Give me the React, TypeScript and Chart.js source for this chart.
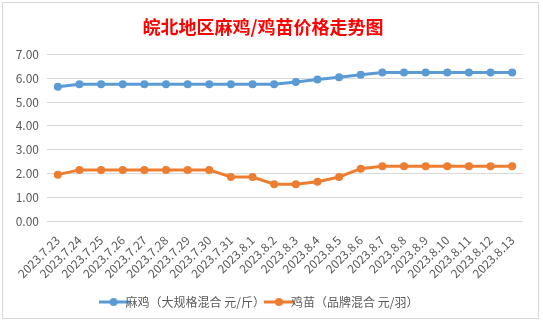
import React, { useEffect, useRef } from "react";
import { Chart, registerables } from "chart.js";

Chart.register(...registerables);

const categories = [
  "2023.7.23", "2023.7.24", "2023.7.25", "2023.7.26", "2023.7.27", "2023.7.28",
  "2023.7.29", "2023.7.30", "2023.7.31", "2023.8.1", "2023.8.2", "2023.8.3",
  "2023.8.4", "2023.8.5", "2023.8.6", "2023.8.7", "2023.8.8", "2023.8.9",
  "2023.8.10", "2023.8.11", "2023.8.12", "2023.8.13",
];
const maji = [
  5.65, 5.75, 5.75, 5.75, 5.75, 5.75, 5.75, 5.75, 5.75, 5.75, 5.75, 5.85,
  5.95, 6.05, 6.15, 6.25, 6.25, 6.25, 6.25, 6.25, 6.25, 6.25,
];
const jimiao = [
  1.95, 2.15, 2.15, 2.15, 2.15, 2.15, 2.15, 2.15, 1.85, 1.85, 1.55, 1.55,
  1.65, 1.85, 2.2, 2.3, 2.3, 2.3, 2.3, 2.3, 2.3, 2.3,
];
const seriesNames = ["麻鸡（大规格混合 元/斤）", "鸡苗（品牌混合 元/羽）"];
const colors = ["#5B9BD5", "#ED7D31"];
const title = "皖北地区麻鸡/鸡苗价格走势图";

function legendIcon(color: string) {
  const c = document.createElement("canvas");
  c.width = 30;
  c.height = 10;
  const ctx = c.getContext("2d")!;
  ctx.strokeStyle = color;
  ctx.lineWidth = 3;
  ctx.beginPath();
  ctx.moveTo(0, 5);
  ctx.lineTo(30, 5);
  ctx.stroke();
  ctx.fillStyle = color;
  ctx.beginPath();
  ctx.arc(15, 5, 4, 0, Math.PI * 2);
  ctx.fill();
  return c;
}

export default function App() {
  const ref = useRef<HTMLCanvasElement>(null);
  useEffect(() => {
    const icons = colors.map(legendIcon);
    const font = "'Noto Sans CJK SC', 'Open Sans', sans-serif";
    const chart = new Chart(ref.current!, {
      type: "line",
      data: {
        labels: categories,
        datasets: [
          {
            label: seriesNames[0],
            data: maji,
            borderColor: colors[0],
            backgroundColor: colors[0],
            borderWidth: 3,
            pointRadius: 4,
            pointBackgroundColor: colors[0],
            pointBorderWidth: 0,
            tension: 0,
          },
          {
            label: seriesNames[1],
            data: jimiao,
            borderColor: colors[1],
            backgroundColor: colors[1],
            borderWidth: 3,
            pointRadius: 4,
            pointBackgroundColor: colors[1],
            pointBorderWidth: 0,
            tension: 0,
          },
        ],
      },
      options: {
        animation: false,
        responsive: false,
        maintainAspectRatio: false,
        layout: { padding: { left: 0, right: 15, top: 9, bottom: 0 } },
        plugins: {
          title: {
            display: true,
            text: title,
            color: "#FF0000",
            font: { family: font, size: 18, weight: "bold" },
            padding: { top: 4, bottom: 17 },
          },
          legend: {
            position: "bottom",
            labels: {
              color: "#595959",
              font: { family: font, size: 12 },
              usePointStyle: true,
              boxWidth: 30,
              boxHeight: 10,
              padding: 8,
              generateLabels: (ch: any) =>
                ch.data.datasets.map((ds: any, i: number) => ({
                  text: ds.label,
                  pointStyle: icons[i],
                  fillStyle: colors[i],
                  strokeStyle: colors[i],
                  lineWidth: 0,
                  hidden: false,
                  datasetIndex: i,
                  fontColor: "#595959",
                })),
            },
          },
          tooltip: { enabled: false },
        },
        scales: {
          x: {
            offset: true,
            grid: { display: false },
            border: { display: false },
            ticks: {
              color: "#595959",
              font: { family: font, size: 12 },
              maxRotation: 45,
              minRotation: 45,
              autoSkip: false,
              padding: 4,
            },
            afterFit: (s: any) => {
              s.height = 67;
            },
          },
          y: {
            min: 0,
            max: 7,
            grid: { color: "#D9D9D9", drawTicks: false, lineWidth: 1 },
            border: { display: false },
            ticks: {
              stepSize: 1,
              color: "#595959",
              font: { family: font, size: 12 },
              padding: 8,
              callback: (v: any) => Number(v).toFixed(2),
            },
            afterFit: (s: any) => {
              s.width = 44;
            },
          },
        },
      },
    });
    return () => chart.destroy();
  }, []);
  return (
    <div
      style={{
        position: "fixed",
        left: 0,
        top: 0,
        width: 543,
        height: 323,
        background: "#fff",
      }}
    >
      <div
        style={{
          position: "absolute",
          left: 2,
          top: 2,
          width: 537,
          height: 317,
          border: "1px solid #D9D9D9",
          boxSizing: "border-box",
        }}
      >
        <canvas
          ref={ref}
          width={535}
          height={315}
          style={{ display: "block", width: 535, height: 315 }}
        />
      </div>
    </div>
  );
}
